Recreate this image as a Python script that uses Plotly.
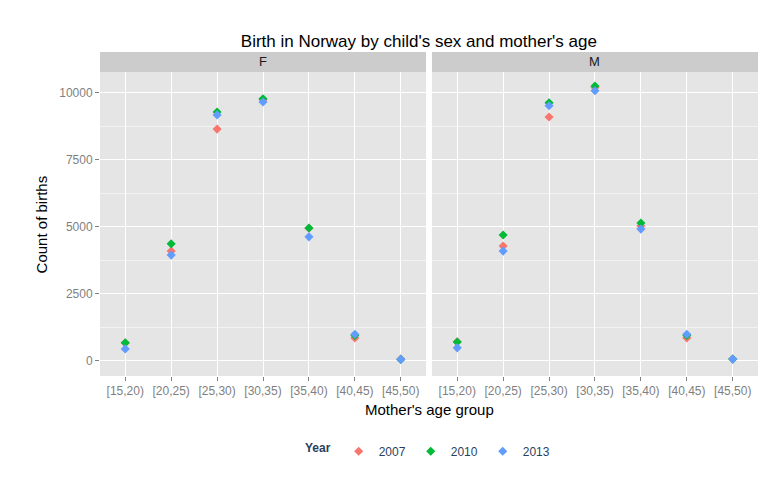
import plotly.graph_objects as go
from plotly.subplots import make_subplots

age_groups = ["[15,20)", "[20,25)", "[25,30)", "[30,35)", "[35,40)", "[40,45)", "[45,50)"]
years = ["2007", "2010", "2013"]
colors = {"2007": "#F8766D", "2010": "#00BA38", "2013": "#619CFF"}

births_f = {
    "2007": [670, 4100, 8650, 9750, 4950, 860, 70],
    "2010": [680, 4370, 9290, 9780, 4960, 950, 60],
    "2013": [450, 3950, 9180, 9660, 4630, 1000, 60],
}
births_m = {
    "2007": [720, 4290, 9100, 10200, 5040, 860, 70],
    "2010": [710, 4700, 9630, 10260, 5150, 950, 70],
    "2013": [490, 4100, 9520, 10080, 4920, 1000, 70],
}

fig = make_subplots(rows=1, cols=2, shared_yaxes=True, horizontal_spacing=0.009)

for col, data in [(1, births_f), (2, births_m)]:
    for yr in years:
        fig.add_trace(go.Scatter(
            x=age_groups, y=data[yr], mode="markers", name=yr,
            marker=dict(symbol="diamond", size=7, color=colors[yr]),
            showlegend=(col == 1), legendgroup=yr,
        ), row=1, col=col)

for i in (1, 2):
    fig.update_xaxes(range=[-0.55, 6.55], showgrid=True, gridcolor="white", gridwidth=1,
                     tickfont=dict(color="#7F7F7F", size=12), ticks="outside",
                     ticklen=4, tickcolor="#7F7F7F", zeroline=False, automargin=False,
                     row=1, col=i)
    fig.update_yaxes(range=[-560, 10780], tick0=0, dtick=2500, tickformat="d", showgrid=True,
                     gridcolor="white", gridwidth=1, zeroline=False, automargin=False,
                     minor=dict(dtick=1250, gridcolor="#F2F2F2", gridwidth=0.5, showgrid=True),
                     tickfont=dict(color="#7F7F7F", size=12), row=1, col=i)
fig.update_yaxes(ticks="outside", ticklen=4, tickcolor="#7F7F7F", row=1, col=1)

# strip headers
strip_h = 20 / 304
for ax, label in [("x", "F"), ("x2", "M")]:
    fig.add_shape(type="rect", xref=ax + " domain", yref="paper", x0=0, x1=1,
                  y0=1, y1=1 + strip_h, fillcolor="#CCCCCC", line_width=0)
    fig.add_annotation(xref=ax + " domain", yref="paper", x=0.5, y=1 + strip_h / 2,
                       yanchor="middle", text=label, showarrow=False,
                       font=dict(size=13, color="#1A1A1A"))

fig.add_annotation(xref="paper", yref="paper", x=0.5, y=-0.075, yanchor="top",
                   text="Mother's age group", showarrow=False, font=dict(size=15, color="black"))
fig.add_annotation(xref="paper", yref="paper", x=-0.105, y=0.5, textangle=-90,
                   text="Count of births", showarrow=False, font=dict(size=15, color="black"))

fig.update_layout(
    width=768, height=480,
    margin=dict(l=92, r=18, t=64, b=112),
    paper_bgcolor="white", plot_bgcolor="#E5E5E5",
    font=dict(family="Liberation Sans, Arial, sans-serif"),
    title=dict(text="Birth in Norway by child's sex and mother's age", x=0.535, y=1 - 33 / 480,
               yref="container", xanchor="center", yanchor="middle",
               font=dict(size=17, color="black")),
    legend=dict(orientation="h", x=0.5, xanchor="center", y=-0.2, yanchor="top",
                title=dict(text="<b>Year</b>", font=dict(size=12)), font=dict(size=12),
                itemwidth=30, tracegroupgap=0),
)

fig.write_html("out.html")
